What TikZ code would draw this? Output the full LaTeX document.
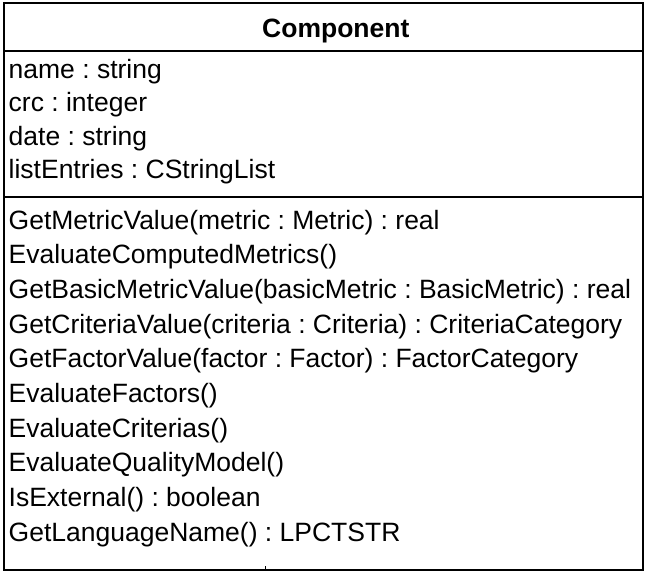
\documentclass[tikz,border=0pt]{standalone}
\usepackage{fontspec}
\setmainfont{Liberation Sans}
\frenchspacing
\begin{document}
\begin{tikzpicture}[x=1pt,y=-1pt,
  member/.style={anchor=base west,inner sep=0pt,font=\fontsize{26.5}{30}\selectfont},
  title/.style={anchor=base west,inner sep=0pt,font=\fontsize{26.5}{30}\selectfont\bfseries},
  frame/.style={draw=black,line width=1.4pt}]
\useasboundingbox (0,0) rectangle (646,571);
\draw[frame] (4,3) rectangle (643,570);
\draw[frame] (4,51) -- (643,51);
\draw[frame] (4,197) -- (643,197);
\draw[line width=0.8pt] (265,566) -- (265,570);
\node[title] (t) at (262,37) {Component};
\node[member] (a1) at (8.5,78) {name : string};
\node[member] (a2) at (8.5,111.5) {crc : integer};
\node[member] (a3) at (8.5,145) {date : string};
\node[member] (a4) at (8.5,178.5) {listEntries : CStringList};
\node[member] (m1) at (8.5,229) {GetMetricValue(metric : Metric) : real};
\node[member] (m2) at (8.5,263.7) {EvaluateComputedMetrics()};
\node[member] (m3) at (8.5,298.4) {GetBasicMetricValue(basicMetric : BasicMetric) : real};
\node[member] (m4) at (8.5,333.1) {GetCriteriaValue(criteria : Criteria) : CriteriaCategory};
\node[member] (m5) at (8.5,367.8) {GetFactorValue(factor : Factor) : FactorCategory};
\node[member] (m6) at (8.5,402.5) {EvaluateFactors()};
\node[member] (m7) at (8.5,437.2) {EvaluateCriterias()};
\node[member] (m8) at (8.5,471.9) {EvaluateQualityModel()};
\node[member] (m9) at (8.5,506.6) {IsExternal() : boolean};
\node[member] (m10) at (8.5,541.3) {GetLanguageName() : LPCTSTR};
\end{tikzpicture}
\end{document}
